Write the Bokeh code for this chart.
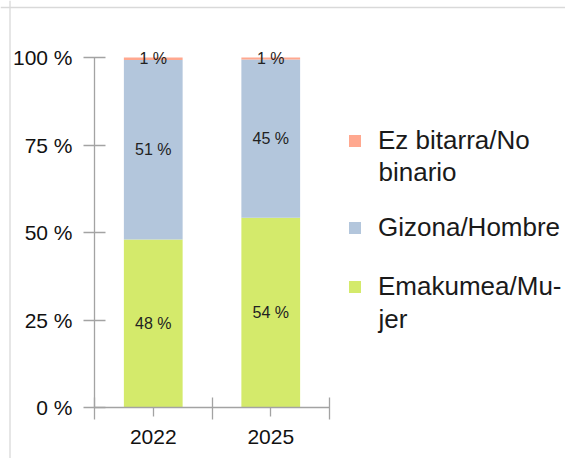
from bokeh.plotting import figure
from bokeh.models import (Range1d, FixedTicker, PrintfTickFormatter, ColumnDataSource,
                          Legend, LegendItem, LinearAxis, Label, Span)
from bokeh.core.properties import value
from bokeh.embed import file_html
from bokeh.resources import INLINE

years = ["2022", "2025"]
women = [48.0, 54.2]      # Emakumea/Mujer
men = [51.3, 45.2]        # Gizona/Hombre
nonbinary = [0.7, 0.6]    # Ez bitarra/No binario
women_lbl = ["48 %", "54 %"]
men_lbl = ["51 %", "45 %"]
nb_lbl = ["1 %", "1 %"]
legend_first = ["Emakumea/Mu-", "Gizona/Hombre", "Ez bitarra/No"]
legend_rest = ["jer", "", "binario"]
colors = ["#d4ea6b", "#b3c6dc", "#ffa88f"]
y_ticks = [0, 25, 50, 75, 100]

FONT = "Liberation Sans"
AXIS_COL = "#a3a3a3"

# layout (canvas pixels)
W, H = 565, 458
PX0, PY0 = 94, 407        # pixel of data origin (x=0, y=0)
CAT_PX = 117.5            # pixel width of one category
PCT_PX = 3.5              # pixels per percentage point

def dx(px):   # canvas px -> data x
    return (px - PX0) / CAT_PX

def dy(py):   # canvas px -> data y
    return (PY0 - py) / PCT_PX

xs = [i + 0.5 for i in range(len(years))]
b0 = [0.0] * len(years)
t0 = women
b1 = t0
t1 = [a + b for a, b in zip(t0, men)]
b2 = t1
t2 = [a + b for a, b in zip(t1, nonbinary)]

p = figure(width=W, height=H, output_backend="svg", toolbar_location=None,
           x_range=Range1d(dx(0), dx(W)), y_range=Range1d(dy(H), dy(0)),
           min_border_left=0, min_border_right=0, min_border_top=0, min_border_bottom=0,
           x_axis_location=None, y_axis_location=None)
p.outline_line_color = None
p.grid.visible = False
p.background_fill_color = "white"
p.border_fill_color = "white"

# light frame around the chart (left and top edges)
p.add_layout(Span(location=dx(9.5), dimension="height", line_color="#d9d9d9", line_width=1.3))
p.add_layout(Span(location=dy(7), dimension="width", line_color="#d9d9d9", line_width=1.3))

# y axis
ya = LinearAxis(ticker=FixedTicker(ticks=y_ticks, minor_ticks=[]),
                formatter=PrintfTickFormatter(format="%d %%"),
                fixed_location=0, bounds=(y_ticks[0], y_ticks[-1]))
ya.axis_line_color = AXIS_COL
ya.axis_line_width = 1.3
ya.major_tick_line_color = AXIS_COL
ya.major_tick_line_width = 1.3
ya.major_tick_in = 11
ya.major_tick_out = 11
ya.major_label_standoff = 11
ya.major_label_text_font = FONT
ya.major_label_text_font_size = "21px"
ya.major_label_text_color = "#111111"
p.add_layout(ya, "left")

# x axis
xa = LinearAxis(ticker=FixedTicker(ticks=xs, minor_ticks=list(range(len(years) + 1))),
                major_label_overrides={x: y for x, y in zip(xs, years)},
                fixed_location=0, bounds=(0, len(years)))
xa.axis_line_color = AXIS_COL
xa.axis_line_width = 1.3
xa.major_tick_line_color = AXIS_COL
xa.major_tick_line_width = 1.3
xa.minor_tick_line_color = AXIS_COL
xa.minor_tick_line_width = 1.3
xa.major_tick_in = 0
xa.major_tick_out = 9
xa.minor_tick_in = 10
xa.minor_tick_out = 12
xa.major_label_standoff = 10
xa.major_label_text_font = FONT
xa.major_label_text_font_size = "21px"
xa.major_label_text_color = "#111111"
p.add_layout(xa, "below")

src = ColumnDataSource(dict(x=xs, b0=b0, t0=t0, b1=b1, t1=t1, b2=b2, t2=t2,
                            c0=[(a + b) / 2 for a, b in zip(b0, t0)],
                            c1=[(a + b) / 2 for a, b in zip(b1, t1)],
                            c2=[(a + b) / 2 for a, b in zip(b2, t2)],
                            l0=women_lbl, l1=men_lbl, l2=nb_lbl))

renderers = []
for i in range(3):
    r = p.vbar(x="x", bottom=f"b{i}", top=f"t{i}", width=0.5, source=src,
               fill_color=colors[i], line_color=None)
    renderers.append(r)
for i in range(3):
    p.text(x="x", y=f"c{i}", text=f"l{i}", source=src, text_align="center",
           text_baseline="middle", text_font=value(FONT), text_font_size="16px",
           text_color="#222222")

def make_legend(idx, loc):
    lg = Legend(items=[LegendItem(label=legend_first[i], renderers=[renderers[i]]) for i in idx],
                location=loc, orientation="vertical")
    lg.glyph_width = 15
    lg.glyph_height = 15
    lg.label_text_font = FONT
    lg.label_text_font_size = "26px"
    lg.label_text_color = "#1a1a1a"
    lg.label_standoff = 16
    lg.spacing = 28
    lg.border_line_color = None
    lg.background_fill_alpha = 0
    lg.padding = 0
    lg.margin = 0
    lg.label_height = 30
    return lg

p.add_layout(make_legend([2], (347, H - 156)), "center")
p.add_layout(make_legend([1, 0], (347, H - 302)), "center")

for i, py in [(2, 171), (0, 318)]:
    p.add_layout(Label(x=dx(378), y=dy(py), text=legend_rest[i], text_font=FONT,
                       text_font_size="26px", text_color="#1a1a1a",
                       text_baseline="middle", text_align="left"))

open("out.html", "w").write(file_html(p, INLINE))
